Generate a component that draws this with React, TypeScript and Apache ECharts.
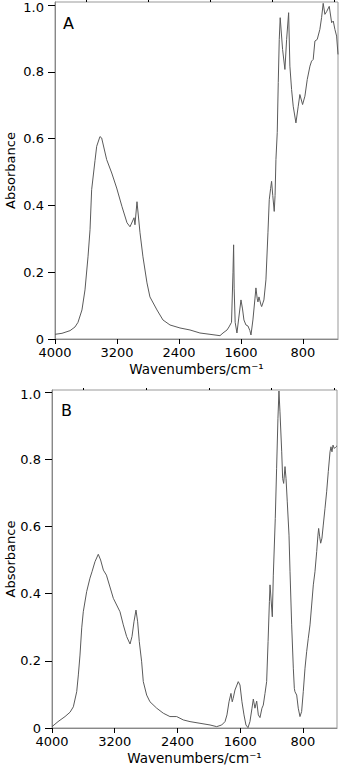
import React, { useEffect, useRef } from "react";
import * as echarts from "echarts";

const panelLabels = ["A", "B"];
const xAxisName = "Wavenumbers/cm⁻¹";
const yAxisName = "Absorbance";
const xTickLabels = [4000, 3200, 2400, 1600, 800];
const xMinorTicks = [3600, 2800, 2000, 1200, 400];
const yTicks = [0, 0.2, 0.4, 0.6, 0.8, 1.0];

// Panel A: [wavenumber, absorbance]
const spectrumA: [number, number][] = [
  [4000, 0.014], [3910, 0.017], [3806, 0.025], [3742, 0.036], [3703, 0.05],
  [3652, 0.087], [3613, 0.147], [3574, 0.246], [3548, 0.327], [3527, 0.447],
  [3484, 0.534], [3462, 0.577], [3420, 0.606], [3398, 0.602], [3333, 0.537],
  [3268, 0.497], [3204, 0.452], [3135, 0.396], [3071, 0.348], [3032, 0.336],
  [2980, 0.363], [2968, 0.342], [2942, 0.411], [2903, 0.318], [2865, 0.246],
  [2813, 0.168], [2775, 0.126], [2684, 0.087], [2607, 0.057], [2516, 0.042],
  [2387, 0.033], [2258, 0.027], [2130, 0.018], [2000, 0.014], [1871, 0.01],
  [1832, 0.018], [1780, 0.027], [1755, 0.036], [1722, 0.05], [1703, 0.2],
  [1695, 0.282], [1688, 0.15], [1675, 0.05], [1652, 0.018], [1630, 0.06],
  [1600, 0.117], [1580, 0.09], [1562, 0.057], [1536, 0.042], [1510, 0.039],
  [1485, 0.025], [1471, 0.012], [1446, 0.057], [1420, 0.12], [1407, 0.153],
  [1390, 0.12], [1381, 0.111], [1368, 0.126], [1342, 0.102], [1333, 0.097],
  [1317, 0.108], [1304, 0.117], [1278, 0.177], [1252, 0.318], [1235, 0.417],
  [1218, 0.45], [1205, 0.472], [1190, 0.43], [1171, 0.382], [1160, 0.43],
  [1149, 0.537], [1132, 0.618], [1119, 0.768], [1106, 0.897], [1094, 0.962],
  [1063, 0.867], [1033, 0.807], [1011, 0.897], [985, 0.977], [969, 0.817],
  [947, 0.747], [926, 0.697], [891, 0.647], [861, 0.697], [840, 0.732],
  [805, 0.702], [775, 0.727], [745, 0.777], [710, 0.817], [689, 0.832],
  [668, 0.837], [646, 0.892], [616, 0.897], [582, 0.927], [560, 0.962],
  [539, 1.005], [517, 0.972], [495, 0.98], [461, 0.996], [430, 0.947],
  [409, 0.952], [388, 0.927], [366, 0.907], [348, 0.852],
];

// Panel B: [wavenumber, absorbance]
const spectrumB: [number, number][] = [
  [4000, 0.004], [3923, 0.019], [3834, 0.034], [3770, 0.047], [3728, 0.063],
  [3685, 0.108], [3664, 0.158], [3643, 0.217], [3621, 0.298], [3601, 0.346],
  [3558, 0.406], [3516, 0.446], [3490, 0.465], [3452, 0.495], [3410, 0.517],
  [3380, 0.5], [3345, 0.47], [3306, 0.455], [3218, 0.386], [3133, 0.346],
  [3091, 0.307], [3048, 0.272], [3005, 0.25], [2980, 0.272], [2955, 0.316],
  [2929, 0.351], [2908, 0.316], [2887, 0.257], [2857, 0.197], [2836, 0.138],
  [2793, 0.098], [2751, 0.078], [2665, 0.059], [2581, 0.044], [2496, 0.034],
  [2410, 0.034], [2326, 0.024], [2240, 0.019], [2113, 0.014], [1985, 0.009],
  [1900, 0.004], [1836, 0.009], [1794, 0.019], [1769, 0.039], [1743, 0.078],
  [1718, 0.103], [1702, 0.078], [1690, 0.088], [1667, 0.113], [1625, 0.138],
  [1603, 0.128], [1578, 0.078], [1552, 0.039], [1527, 0.009], [1501, 0.001],
  [1476, 0.019], [1450, 0.059], [1433, 0.086], [1412, 0.059], [1390, 0.08],
  [1369, 0.039], [1348, 0.031], [1323, 0.059], [1306, 0.068], [1284, 0.103],
  [1263, 0.138], [1245, 0.257], [1228, 0.376], [1220, 0.426], [1191, 0.331],
  [1178, 0.455], [1153, 0.624], [1136, 0.773], [1119, 0.922], [1106, 1.003],
  [1093, 0.941], [1071, 0.822], [1059, 0.743], [1046, 0.728], [1029, 0.778],
  [1016, 0.743], [1000, 0.673], [978, 0.574], [965, 0.465], [944, 0.307],
  [923, 0.178], [910, 0.118], [902, 0.108], [880, 0.098], [860, 0.059],
  [838, 0.034], [817, 0.049], [796, 0.108], [774, 0.178], [753, 0.227],
  [732, 0.267], [710, 0.307], [689, 0.366], [668, 0.426], [647, 0.465],
  [625, 0.525], [609, 0.574], [600, 0.594], [587, 0.569], [574, 0.55],
  [558, 0.565], [541, 0.604], [519, 0.654], [498, 0.703], [477, 0.763],
  [455, 0.822], [443, 0.837], [430, 0.822], [417, 0.842], [400, 0.832],
  [379, 0.837], [366, 0.84],
];

const FONT = "DejaVu Sans";

function makeX(gridIndex: number, min: number) {
  return [
    {
      type: "value",
      gridIndex,
      min,
      max: 4000,
      inverse: true,
      axisLine: { show: true, lineStyle: { color: "#888", width: 1 } },
      axisTick: {
        show: true,
        customValues: xTickLabels,
        length: 5,
        lineStyle: { color: "#000", width: 1 },
      },
      axisLabel: {
        customValues: xTickLabels,
        formatter: (v: number) => String(v),
        fontFamily: FONT,
        fontSize: 13,
        color: "#000",
        margin: 7,
      },
      splitLine: { show: false },
      name: xAxisName,
      nameLocation: "middle",
      nameGap: 23,
      nameMoveOverlap: false,
      nameTextStyle: { fontFamily: FONT, fontSize: 13.5, color: "#000" },
    },
    {
      type: "value",
      gridIndex,
      min,
      max: 4000,
      inverse: true,
      axisLine: { show: false },
      axisTick: {
        show: true,
        customValues: xMinorTicks,
        length: 2,
        lineStyle: { color: "#000", width: 1 },
      },
      axisLabel: { show: false },
      splitLine: { show: false },
    },
  ];
}

function makeY(gridIndex: number, max: number, nameGap: number) {
  return {
    type: "value",
    gridIndex,
    min: 0,
    max,
    axisLine: { show: true, lineStyle: { color: "#888", width: 1 } },
    axisTick: {
      show: true,
      customValues: yTicks,
      length: 7,
      lineStyle: { color: "#000", width: 1 },
    },
    axisLabel: {
      customValues: yTicks,
      formatter: (v: number) =>
        v === 0 ? "0" : v >= 1 ? "{top|" + v.toFixed(1) + "}" : v.toFixed(1),
      fontFamily: FONT,
      fontSize: 13,
      color: "#000",
      margin: 11,
      rich: {
        top: { fontFamily: FONT, fontSize: 13, color: "#000", padding: [4, 0, 0, 0] },
      },
    },
    splitLine: { show: false },
    name: yAxisName,
    nameLocation: "middle",
    nameGap,
    nameMoveOverlap: false,
    nameTextStyle: { fontFamily: FONT, fontSize: 13, color: "#000" },
  };
}

export default function App() {
  const ref = useRef<HTMLDivElement>(null);

  useEffect(() => {
    document.body.style.margin = "0";
    if (!ref.current) return;
    const chart = echarts.init(ref.current, undefined, { renderer: "svg" });
    const lineStyle = { color: "#5a5a5a", width: 1 };
    chart.setOption({
      animation: false,
      backgroundColor: "#fff",
      grid: [
        { left: 55, top: 2, width: 283, height: 337, show: true, borderColor: "#999", borderWidth: 1, containLabel: false, outerBoundsMode: "none" },
        { left: 52, top: 390, width: 285, height: 338, show: true, borderColor: "#999", borderWidth: 1, containLabel: false, outerBoundsMode: "none" },
      ],
      xAxis: [...makeX(0, 348), ...makeX(1, 366)],
      yAxis: [makeY(0, 1.009, 38), makeY(1, 1.006, 35)],
      graphic: [
        { type: "text", left: 63, top: 15, style: { text: panelLabels[0], font: `16px '${FONT}'`, fill: "#000" } },
        { type: "text", left: 61, top: 402, style: { text: panelLabels[1], font: `16px '${FONT}'`, fill: "#000" } },
      ],
      series: [
        { type: "line", xAxisIndex: 0, yAxisIndex: 0, data: spectrumA, showSymbol: false, symbol: "none", lineStyle },
        { type: "line", xAxisIndex: 2, yAxisIndex: 1, data: spectrumB, showSymbol: false, symbol: "none", lineStyle },
      ],
    });
    return () => chart.dispose();
  }, []);

  return <div ref={ref} style={{ width: 340, height: 767 }} />;
}
